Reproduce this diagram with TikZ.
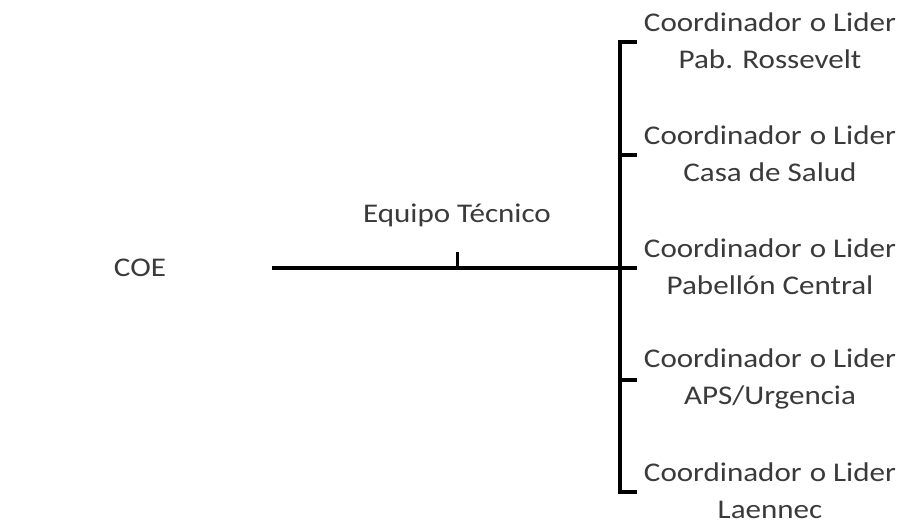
\documentclass[tikz,border=0pt]{standalone}
\usepackage{fontspec}
\setmainfont{Carlito}[FakeStretch=1.15]
\definecolor{txt}{HTML}{3A3A3A}
\begin{document}
\begin{tikzpicture}[x=1pt,y=-1pt,
  lbl/.style={text=txt,font=\fontsize{27}{37}\selectfont,align=center,inner sep=0pt},
  bar/.style={line width=4pt,black}]
\useasboundingbox[fill=white] (0,0) rectangle (908,524);
\node[lbl] (coe) at (140,268) {COE};
\node[lbl] (equipo) at (457,215) {Equipo Técnico};
\coordinate (hstart) at (272,268);
\coordinate (junction) at (620,268);
\coordinate (etick) at (457,268);
\coordinate (etop) at (457,252);
\coordinate (vtop) at (620,42);
\coordinate (vbot) at (620,492);
\foreach \i/\y/\t in {1/42/{Pab. Rossevelt},2/155/{Casa de Salud},3/268/{Pabellón Central},4/380/{APS/Urgencia},5/492/{Laennec}}{
  \coordinate (t\i) at (620,\y);
  \coordinate (e\i) at (637,\y);
  \node[lbl] (lead\i) at (770,\y-1) {Coordinador\hspace{0.3em}o Lider\\\t};
  \draw[bar] (t\i) -- (e\i);
}
\draw[bar] (hstart) -- (junction);
\draw[bar,line cap=rect] (vtop) -- (vbot);
\draw[line width=3pt] (etick) -- (etop);
\end{tikzpicture}
\end{document}
